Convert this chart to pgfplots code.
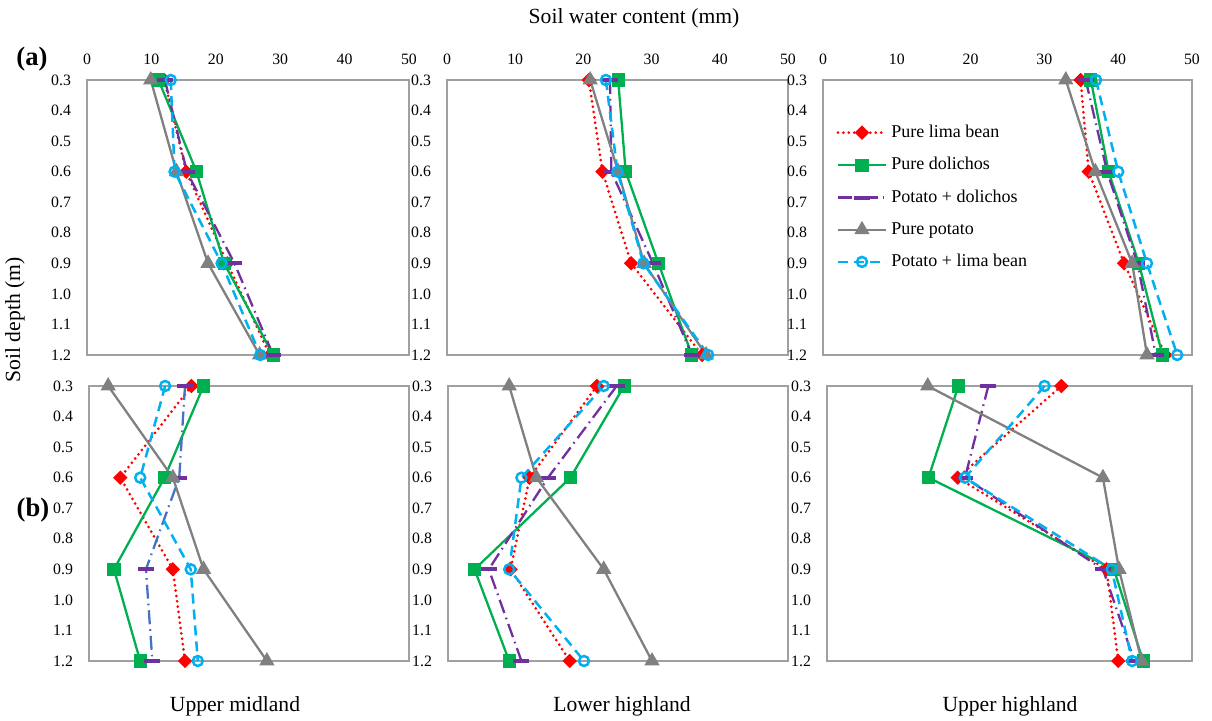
\documentclass[border=0pt]{standalone}
\usepackage{pgfplots}
\pgfplotsset{compat=1.18}
\usepackage{fontspec}
\setmainfont{Liberation Serif}
\definecolor{dgreen}{HTML}{00B050}
\definecolor{dpurple}{HTML}{7030A0}
\definecolor{dgray}{HTML}{808080}
\definecolor{dcyan}{HTML}{00B0F0}
\definecolor{dblue}{HTML}{4472C4}
\definecolor{frame}{HTML}{A0A0A0}
\pgfplotsset{
  panel/.style={scale only axis, anchor=north west, xmin=0, xmax=50, ymin=0.3, ymax=1.2,
    y dir=reverse, ytick={0.3,0.4,0.5,0.6,0.7,0.8,0.9,1.0,1.1,1.2},
    xtick={0,10,20,30,40,50},
    /pgf/number format/assume math mode=true,
    yticklabel style={/pgf/number format/.cd, fixed, fixed zerofill, precision=1, /tikz/.cd, xshift=-4.5pt},
    tick label style={font=\fontsize{7.9}{9}\selectfont},
    major tick length=0pt, axis line style={frame, line width=0.75pt},
    clip=false, height=137.5pt},
  toprow/.style={panel, xticklabel pos=top, xticklabel style={yshift=4pt}},
  botrow/.style={panel, xticklabels={}},
  lima/.style={color=red, line width=1.5pt, dash pattern=on 0pt off 2.7pt, line cap=round, mark=square*, mark size=1.8pt, mark options={rotate=45, solid, fill=red}},
  dol/.style={color=dgreen, line width=1.15pt, mark=square*, mark size=2.7pt, mark options={solid}},
  pd/.style={color=dpurple, line width=1.15pt, dash pattern=on 7pt off 2.5pt on 0.8pt off 2.5pt, mark=-, mark size=4pt, mark options={solid, line width=2pt}},
  pot/.style={color=dgray, line width=1.15pt, mark=triangle*, mark size=3.3pt, mark options={solid}},
  plb/.style={color=dcyan, line width=1.25pt, dash pattern=on 5pt off 3pt, mark=o, mark size=2.5pt, mark options={solid, fill=white}},
}
\begin{document}
\begin{tikzpicture}
\path[use as bounding box] (0,0) rectangle (606pt,-360.5pt);
% ---- top row
\begin{axis}[toprow, at={(43.5pt,-40pt)}, width=161pt]
\addplot[lima] coordinates {(12.0,0.3) (15.4,0.6) (21.8,0.9) (28.4,1.2)};
\addplot[dol] coordinates {(11.1,0.3) (17.0,0.6) (21.3,0.9) (28.9,1.2)};
\addplot[pd] coordinates {(12.1,0.3) (15.5,0.6) (22.9,0.9) (28.9,1.2)};
\addplot[pot] coordinates {(9.9,0.3) (13.9,0.6) (18.8,0.9) (26.8,1.2)};
\addplot[plb] coordinates {(13.0,0.3) (13.6,0.6) (20.9,0.9) (26.9,1.2)};
\end{axis}
\begin{axis}[toprow, at={(223.5pt,-40pt)}, width=170.5pt]
\addplot[lima] coordinates {(20.8,0.3) (22.8,0.6) (27.0,0.9) (37.4,1.2)};
\addplot[dol] coordinates {(25.1,0.3) (26.2,0.6) (31.0,0.9) (35.9,1.2)};
\addplot[pd] coordinates {(23.9,0.3) (24.1,0.6) (30.2,0.9) (35.9,1.2)};
\addplot[pot] coordinates {(21.0,0.3) (25.1,0.6) (28.9,0.9) (38.0,1.2)};
\addplot[plb] coordinates {(23.3,0.3) (25.0,0.6) (28.8,0.9) (38.3,1.2)};
\end{axis}
\begin{axis}[toprow, at={(411.5pt,-40pt)}, width=184.5pt,
  legend style={at={(axis description cs:0.03,0.86)}, anchor=north west, draw=none, fill=none,
    font=\fontsize{9}{11}\selectfont, row sep=4.5pt, inner sep=1pt},
  legend cell align=left,
  legend image code/.code={\draw[mark repeat=2,mark phase=2] plot coordinates {(0pt,0pt) (12pt,0pt) (24pt,0pt)};}]
\addplot[lima] coordinates {(34.9,0.3) (36.0,0.6) (40.8,0.9) (46.4,1.2)};
\addplot[dol] coordinates {(36.3,0.3) (38.7,0.6) (42.8,0.9) (46.0,1.2)};
\addplot[pd] coordinates {(35.6,0.3) (38.5,0.6) (42.6,0.9) (45.1,1.2)};
\addplot[pot] coordinates {(32.9,0.3) (36.9,0.6) (41.9,0.9) (43.9,1.2)};
\addplot[plb] coordinates {(37.0,0.3) (40.0,0.6) (43.9,0.9) (48.0,1.2)};
\legend{Pure lima bean, Pure dolichos, Potato + dolichos, Pure potato, Potato + lima bean}
\end{axis}
% ---- bottom row
\begin{axis}[botrow, at={(44.5pt,-193pt)}, width=160pt]
\addplot[lima] coordinates {(16.0,0.3) (4.9,0.6) (13.1,0.9) (15.0,1.2)};
\addplot[dol] coordinates {(17.9,0.3) (11.8,0.6) (3.9,0.9) (8.0,1.2)};
\addplot[pd, color=dblue, mark options={solid, line width=2pt, draw=dpurple}] coordinates {(15.0,0.3) (14.1,0.6) (8.9,0.9) (9.9,1.2)};
\addplot[pot] coordinates {(3.0,0.3) (13.1,0.6) (17.9,0.9) (27.8,1.2)};
\addplot[plb] coordinates {(11.9,0.3) (8.0,0.6) (15.9,0.9) (17.0,1.2)};
\end{axis}
\begin{axis}[botrow, at={(224pt,-193pt)}, width=170pt]
\addplot[lima] coordinates {(21.9,0.3) (12.0,0.6) (9.2,0.9) (17.9,1.2)};
\addplot[dol] coordinates {(25.9,0.3) (18.0,0.6) (3.9,0.9) (9.0,1.2)};
\addplot[pd] coordinates {(24.8,0.3) (14.7,0.6) (6.0,0.9) (10.8,1.2)};
\addplot[pot] coordinates {(9.0,0.3) (13.0,0.6) (22.9,0.9) (30.0,1.2)};
\addplot[plb] coordinates {(22.9,0.3) (10.8,0.6) (9.0,0.9) (20.0,1.2)};
\end{axis}
\begin{axis}[botrow, at={(413.5pt,-193pt)}, width=182.5pt]
\addplot[lima] coordinates {(32.1,0.3) (17.9,0.6) (38.3,0.9) (39.9,1.2)};
\addplot[dol] coordinates {(18.0,0.3) (13.9,0.6) (39.3,0.9) (43.3,1.2)};
\addplot[pd] coordinates {(22.1,0.3) (18.9,0.6) (37.8,0.9) (42.1,1.2)};
\addplot[pot] coordinates {(13.8,0.3) (37.8,0.6) (40.0,0.9) (43.1,1.2)};
\addplot[plb] coordinates {(29.8,0.3) (18.9,0.6) (39.0,0.9) (41.8,1.2)};
\end{axis}
% ---- labels
\node[font=\fontsize{10.8}{12}\selectfont] at (317pt,-9pt) {Soil water content (mm)};
\node[font=\fontsize{10.8}{12}\selectfont, rotate=90] at (7.5pt,-160pt) {Soil depth (m)};
\node[font=\bfseries\fontsize{13.3}{14}\selectfont] at (16pt,-29.5pt) {(a)};
\node[font=\bfseries\fontsize{13.3}{14}\selectfont] at (16.5pt,-255pt) {(b)};
\node[font=\fontsize{10.8}{12}\selectfont] at (117.5pt,-353pt) {Upper midland};
\node[font=\fontsize{10.8}{12}\selectfont] at (311pt,-353pt) {Lower highland};
\node[font=\fontsize{10.8}{12}\selectfont] at (505pt,-353pt) {Upper highland};
\end{tikzpicture}
\end{document}
